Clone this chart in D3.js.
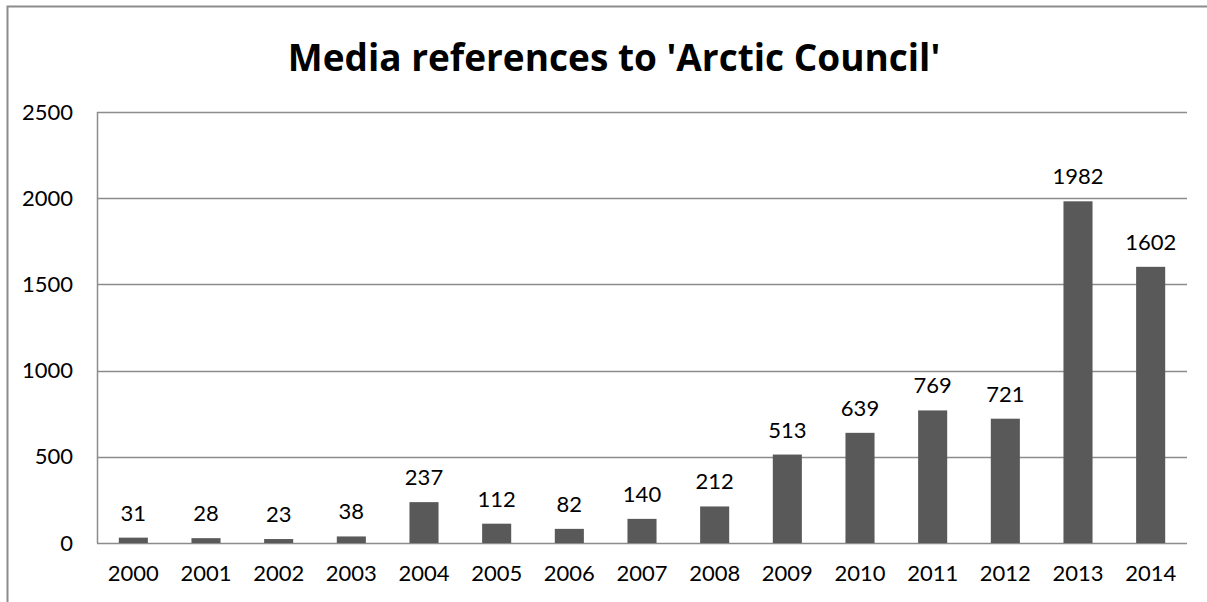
<!DOCTYPE html>
<html>
<head>
<meta charset="utf-8">
<script src="https://cdn.jsdelivr.net/npm/d3@7"></script>
<style>
  body { margin: 0; background: #fff; }
  text { font-family: Lato, "Open Sans", sans-serif; fill: #000; }
</style>
</head>
<body>
<script>
// data
var years = ["2000", "2001", "2002", "2003", "2004", "2005", "2006", "2007",
             "2008", "2009", "2010", "2011", "2012", "2013", "2014"];
var references = [31, 28, 23, 38, 237, 112, 82, 140, 212, 513, 639, 769, 721, 1982, 1602];
var yTicks = [0, 500, 1000, 1500, 2000, 2500];
var chartTitle = "Media references to 'Arctic Council'";

function drawChart() {
  var w = 1207, h = 602;
  var margin = { top: 112, right: 20, bottom: 59, left: 97 };
  var width = w - margin.left - margin.right,
      height = h - margin.top - margin.bottom;

  var svg = d3.select("body").append("svg")
    .attr("width", w)
    .attr("height", h);

  // outer frame (top and left edges visible)
  svg.append("path")
    .attr("d", "M7.5," + h + "V6.5H" + w)
    .attr("fill", "none")
    .attr("stroke", "#8c8c8c")
    .attr("stroke-width", 2);

  // title
  svg.append("text")
    .attr("x", 614)
    .attr("y", 71)
    .attr("text-anchor", "middle")
    .style("font-family", "'Open Sans', sans-serif")
    .style("font-size", "37px")
    .style("font-weight", "bold")
    .text(chartTitle);

  var g = svg.append("g")
    .attr("transform", "translate(" + margin.left + "," + margin.top + ")");

  var x = d3.scaleBand()
    .domain(years)
    .range([0, width])
    .paddingInner(0.6)
    .paddingOuter(0.3);

  var y = d3.scaleLinear()
    .domain([0, 2500])
    .range([height, 0]);

  // gridlines
  g.append("g")
    .selectAll("line")
    .data(yTicks)
    .enter()
    .append("line")
    .attr("x1", 0)
    .attr("x2", width)
    .attr("y1", function(d) { return Math.round(y(d)) + 0.5; })
    .attr("y2", function(d) { return Math.round(y(d)) + 0.5; })
    .attr("stroke", "#8c8c8c")
    .attr("stroke-width", 1.5);

  // left axis line
  g.append("line")
    .attr("x1", 0.5).attr("x2", 0.5)
    .attr("y1", 0).attr("y2", height + 0.5)
    .attr("stroke", "#8c8c8c")
    .attr("stroke-width", 1.5);

  // y axis labels
  var yAxis = d3.axisLeft(y)
    .tickValues(yTicks)
    .tickFormat(d3.format("d"))
    .tickSize(0)
    .tickPadding(24);
  var ya = g.append("g").call(yAxis);
  ya.select(".domain").remove();
  ya.selectAll("text")
    .attr("font-size", "22px")
    .attr("fill", "#000");

  // x axis labels
  var xAxis = d3.axisBottom(x)
    .tickSize(0)
    .tickPadding(22);
  var xa = g.append("g")
    .attr("transform", "translate(0," + height + ")")
    .call(xAxis);
  xa.select(".domain").remove();
  xa.selectAll("text")
    .attr("font-size", "22px")
    .attr("fill", "#000");

  // bars
  g.selectAll("rect.bar")
    .data(references)
    .enter()
    .append("rect")
    .attr("class", "bar")
    .attr("x", function(d, i) { return x(years[i]); })
    .attr("y", function(d) { return y(d); })
    .attr("width", x.bandwidth())
    .attr("height", function(d) { return height - y(d); })
    .attr("fill", "#595959");

  // value labels
  g.selectAll("text.val")
    .data(references)
    .enter()
    .append("text")
    .attr("class", "val")
    .attr("x", function(d, i) { return x(years[i]) + x.bandwidth() / 2; })
    .attr("y", function(d) { return y(d) - 17; })
    .attr("text-anchor", "middle")
    .attr("font-size", "22px")
    .text(function(d) { return d; });
}

window.onload = function() {
  drawChart();
};
</script>
</body>
</html>
